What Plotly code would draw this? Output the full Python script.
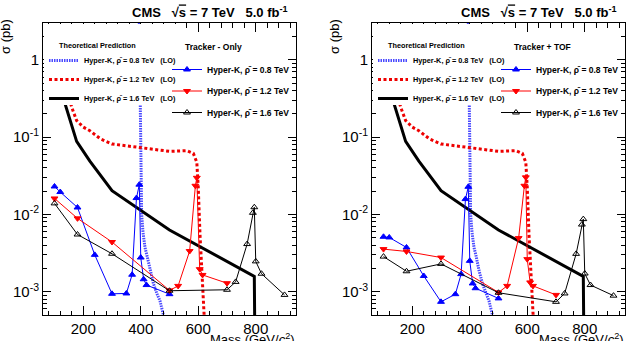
import plotly.graph_objects as go
import math

W, H = 627, 341

# ---------------- data ----------------
# Theoretical predictions (LO)
th08_mass = [395, 398, 400, 403, 408, 415, 422, 432, 444, 456, 467, 480, 490]
th08_xsec = [3.0, 0.24, 0.04, 0.0101, 0.0058, 0.0037, 0.0029, 0.0019, 0.00128, 0.00095, 0.00076, 0.00048, 0.0003]

th12_mass = [130, 160, 177, 200, 223, 260, 300, 400, 500, 560, 583, 595, 600, 606, 618, 630]
th12_xsec = [0.6, 0.243, 0.164, 0.135, 0.121, 0.095, 0.0816, 0.0738, 0.0655, 0.0669, 0.0617, 0.0472, 0.0224, 0.00557, 0.0005, 0.0001]

th16_mass = [100, 140, 177, 223, 300, 500, 795, 800]
th16_xsec = [0.75, 0.243, 0.088, 0.049, 0.0203, 0.0063, 0.00158, 0.00001]

# Tracker - Only
trk_08_mass = [100, 120, 180, 240, 300, 350, 370, 385, 395, 400, 410, 420, 500]
trk_08_xsec = [0.023, 0.0195, 0.0123, 0.0030, 0.00094, 0.00095, 0.00166, 0.0163, 0.0243, 0.00277, 0.00145, 0.00122, 0.00093]

trk_12_mass = [100, 180, 300, 500, 530, 570, 590, 595, 605, 615, 700]
trk_12_xsec = [0.0161, 0.0089, 0.0044, 0.00104, 0.00119, 0.00336, 0.0235, 0.0298, 0.00196, 0.00165, 0.00129]

trk_16_mass = [100, 180, 300, 500, 700, 730, 770, 790, 795, 800, 820, 900]
trk_16_xsec = [0.0139, 0.0055, 0.0031, 0.00103, 0.00106, 0.00134, 0.00414, 0.0105, 0.0124, 0.00247, 0.00171, 0.00091]

# Tracker + TOF
tof_08_mass = [100, 120, 180, 240, 300, 350, 370, 385, 395, 400, 410, 420, 500]
tof_08_xsec = [0.00514, 0.00504, 0.00374, 0.0016, 0.00074, 0.00093, 0.00169, 0.0158, 0.0228, 0.00251, 0.00128, 0.00111, 0.00082]

tof_12_mass = [100, 180, 300, 500, 530, 570, 590, 595, 600, 610, 620, 700]
tof_12_xsec = [0.00356, 0.00332, 0.00277, 0.00098, 0.00119, 0.00494, 0.0235, 0.0302, 0.00264, 0.00132, 0.00119, 0.00091]

tof_16_mass = [100, 180, 300, 500, 700, 730, 770, 790, 795, 800, 820, 900]
tof_16_xsec = [0.00285, 0.00184, 0.00229, 0.00097, 0.00074, 0.00095, 0.00309, 0.0074, 0.0087, 0.00172, 0.00122, 0.00089]

x_major = [200, 400, 600, 800]
x_major_text = ["200", "400", "600", "800"]
y_major = [1e-3, 1e-2, 1e-1, 1]
y_major_text = ["10<sup>-3</sup>", "10<sup>-2</sup>", "10<sup>-1</sup>", "1"]

names_th = ["Hyper-K, \u03c1\u0304 = 0.8 TeV\u00a0\u00a0\u00a0(LO)",
            "Hyper-K, \u03c1\u0304 = 1.2 TeV\u00a0\u00a0\u00a0(LO)",
            "Hyper-K, \u03c1\u0304 = 1.6 TeV\u00a0\u00a0\u00a0(LO)"]
names_data = ["Hyper-K, \u03c1\u0304 = 0.8 TeV",
              "Hyper-K, \u03c1\u0304 = 1.2 TeV",
              "Hyper-K, \u03c1\u0304 = 1.6 TeV"]

# ---------------- layout helpers ----------------
FONT = "Liberation Sans"
def px(xp):
    return xp / W
def py(yp):
    return (H - yp) / H

PLOT_TOP, PLOT_BOT = 23, 315
panels = [
    dict(suffix="", x0=43, x1=296, lth="legend", ldat="legend2", label="Tracker - Only",
         data=[(trk_08_mass, trk_08_xsec), (trk_12_mass, trk_12_xsec), (trk_16_mass, trk_16_xsec)]),
    dict(suffix="2", x0=372, x1=625, lth="legend3", ldat="legend4", label="Tracker + TOF",
         data=[(tof_08_mass, tof_08_xsec), (tof_12_mass, tof_12_xsec), (tof_16_mass, tof_16_xsec)]),
]

fig = go.Figure()

th_styles = [
    dict(color="#4a4aff", width=3, dash="1.5px,1px"),
    dict(color="#ee0000", width=3, dash="3px,2.5px"),
    dict(color="black", width=3, dash="solid"),
]
th_data = [(th08_mass, th08_xsec), (th12_mass, th12_xsec), (th16_mass, th16_xsec)]
dat_styles = [
    dict(color="#0000ff", symbol="triangle-up"),
    dict(color="#ff0000", symbol="triangle-down"),
    dict(color="black", symbol="triangle-up-open"),
]

annotations = []
shapes = []
x_minor = list(range(80, 941, 40))
y_minor = [k * 10.0 ** e for e in range(-4, 1) for k in range(2, 10)]

for p in panels:
    xa = "x" + p["suffix"]
    ya = "y" + p["suffix"]
    for (xs, ys), st, nm in zip(th_data, th_styles, names_th):
        fig.add_trace(go.Scatter(x=xs, y=ys, mode="lines", name=nm, xaxis=xa, yaxis=ya,
                                 line=st, legend=p["lth"], cliponaxis=True))
    for i, ((xs, ys), st, nm) in enumerate(zip(p["data"], dat_styles, names_data)):
        fig.add_trace(go.Scatter(x=xs, y=ys, mode="lines+markers", name=nm, xaxis=xa, yaxis=ya,
                                 line=dict(color=st["color"], width=1),
                                 marker=dict(color=st["color"], symbol=st["symbol"], size=6,
                                             line=dict(color=st["color"], width=1)),
                                 legend=p["ldat"], legendgroup=p["ldat"] + str(i)))
    xdom = [px(p["x0"]), px(p["x1"])]
    axx = dict(domain=xdom, anchor=ya, range=[60, 940], showline=True, linecolor="black",
               linewidth=1, mirror="ticks", ticks="inside", ticklen=9, tickcolor="black",
               tickwidth=1, tickmode="array", tickvals=x_major, ticktext=x_major_text,
               tickfont=dict(family=FONT, size=15, color="black"), showgrid=False,
               zeroline=False, automargin=False,
               minor=dict(tickmode="array", tickvals=x_minor, ticks="inside", ticklen=4.5,
                          tickcolor="black", tickwidth=1, showgrid=False))
    axy = dict(domain=[py(PLOT_BOT), py(PLOT_TOP)], anchor=xa, type="log",
               range=[math.log10(5e-4), math.log10(3)], showline=True, linecolor="black",
               linewidth=1, mirror="ticks", ticks="inside", ticklen=8, tickcolor="black",
               tickwidth=1, tickmode="array", tickvals=y_major, ticktext=y_major_text,
               tickfont=dict(family=FONT, size=15, color="black"), showgrid=False,
               zeroline=False, automargin=False,
               minor=dict(tickmode="array", tickvals=y_minor, ticks="inside", ticklen=4,
                          tickcolor="black", tickwidth=1, showgrid=False))
    fig.update_layout(**{"xaxis" + p["suffix"]: axx, "yaxis" + p["suffix"]: axy})

    off = p["x0"] - 43
    # white legend background box (covers curves like the original legend pad)
    shapes.append(dict(type="rect", xref="paper", yref="paper", layer="above",
                       x0=px(p["x0"] + 1), x1=px(off + 177), y0=py(105), y1=py(PLOT_TOP + 1),
                       fillcolor="white", line=dict(width=0)))
    # header
    annotations.append(dict(xref="paper", yref="paper", x=px(p["x1"] - 6), y=py(12.5),
                            xanchor="right", yanchor="middle", showarrow=False,
                            text="<b>CMS\u00a0\u00a0\u00a0\u221a<span style='text-decoration:overline'>s</span> = 7 TeV\u00a0\u00a0\u00a05.0 fb<sup>-1</sup></b>",
                            font=dict(family=FONT, size=13, color="black")))
    # y title
    annotations.append(dict(xref="paper", yref="paper", x=px(p["x0"] - 38), y=py(37),
                            xanchor="center", yanchor="middle", showarrow=False, textangle=-90,
                            text="\u03c3 (pb)", font=dict(family=FONT, size=13, color="black")))
    # x title
    annotations.append(dict(xref="paper", yref="paper", x=px(p["x1"] + 1), y=py(328.5),
                            xanchor="right", yanchor="top", showarrow=False,
                            text="Mass (GeV/<i>c</i><sup>2</sup>)",
                            font=dict(family=FONT, size=13, color="black")))
    # legend titles
    annotations.append(dict(xref="paper", yref="paper", x=px(off + 57), y=py(45),
                            xanchor="left", yanchor="middle", showarrow=False,
                            text="<b>Theoretical Prediction</b>",
                            font=dict(family=FONT, size=7.3, color="black")))
    annotations.append(dict(xref="paper", yref="paper", x=px(off + 183), y=py(47),
                            xanchor="left", yanchor="middle", showarrow=False,
                            text="<b>" + p["label"] + "</b>",
                            font=dict(family=FONT, size=8.5, color="black")))
    fig.update_layout(**{
        p["lth"]: dict(x=px(off + 44), y=py(46), xanchor="left", yanchor="top",
                       bgcolor="rgba(0,0,0,0)", borderwidth=0, traceorder="normal",
                       font=dict(family=FONT, size=7.3, color="black", weight="bold"),
                       itemwidth=30),
        p["ldat"]: dict(x=px(off + 167), y=py(55), xanchor="left", yanchor="top",
                        bgcolor="rgba(0,0,0,0)", borderwidth=0, traceorder="grouped",
                        tracegroupgap=2.5,
                        font=dict(family=FONT, size=8.5, color="black", weight="bold"),
                        itemwidth=30),
    })

fig.update_layout(width=W, height=H, margin=dict(l=0, r=0, t=0, b=0),
                  paper_bgcolor="white", plot_bgcolor="white", showlegend=True,
                  annotations=annotations, shapes=shapes)

fig.write_html("out.html")
